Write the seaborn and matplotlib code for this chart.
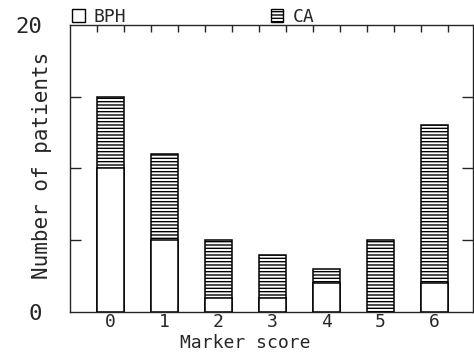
import pandas as pd
import seaborn as sns
import matplotlib.pyplot as plt
from matplotlib.patches import Patch

# Values
scores = ['0', '1', '2', '3', '4', '5', '6']
bph = [10, 5, 1, 1, 2, 0, 2]
ca = [5, 6, 4, 3, 1, 5, 11]

data = pd.DataFrame({'score': scores, 'BPH': bph, 'CA': ca})
data['total'] = data['BPH'] + data['CA']

sns.set_style('ticks')
plt.rcParams['font.family'] = ['DejaVu Sans Mono', 'DejaVu Sans']
plt.rcParams['hatch.linewidth'] = 1.0

fig = plt.figure(figsize=(4.74, 3.59), dpi=100)
ax = fig.add_axes([0.148, 0.131, 0.85, 0.80])

# total height hatched (CA), BPH drawn over it in white
sns.barplot(data=data, x='score', y='total', color='white', edgecolor='black',
            linewidth=1.1, hatch='-----', width=0.5, ax=ax)
sns.barplot(data=data, x='score', y='BPH', color='white', edgecolor='black',
            linewidth=1.1, width=0.5, ax=ax)

ax.set_xlim(-0.74, 6.72)
ax.set_ylim(0, 20)

ax.set_yticks([0, 20])
ax.set_yticklabels(['0', '20'], fontsize=16)
ax.set_yticks([5, 10, 15], minor=True)
ax.set_xticks(range(len(scores)))
ax.set_xticklabels(scores, fontsize=13)
ax.set_xticks([-0.25 + 0.5 * i for i in range(14)], minor=True)

ax.tick_params(axis='y', which='major', length=0, pad=20)
ax.tick_params(axis='y', which='minor', left=True, right=True, direction='in', length=8, width=1)
ax.tick_params(axis='x', which='major', length=0, pad=1)
ax.tick_params(axis='x', which='minor', bottom=False, top=True, direction='in', length=5, width=1)

for s in ax.spines.values():
    s.set_linewidth(1.0)

ax.set_xlabel('Marker score', fontsize=13)
ax.set_ylabel('Number of patients', fontsize=15)
ax.xaxis.set_label_coords(0.434, -0.075)
ax.yaxis.set_label_coords(-0.045, 0.51)

handles = [Patch(facecolor='white', edgecolor='black', label='BPH'),
           Patch(facecolor='white', edgecolor='black', hatch='-----', label='CA')]
ax.legend(handles=handles, loc='lower left', bbox_to_anchor=(0.0, 0.99), ncol=2,
          frameon=False, fontsize=13, handlelength=0.7, handleheight=0.7,
          handletextpad=0.5, columnspacing=8.0, borderaxespad=0, borderpad=0.1)

fig.savefig('out.png', dpi=100)
